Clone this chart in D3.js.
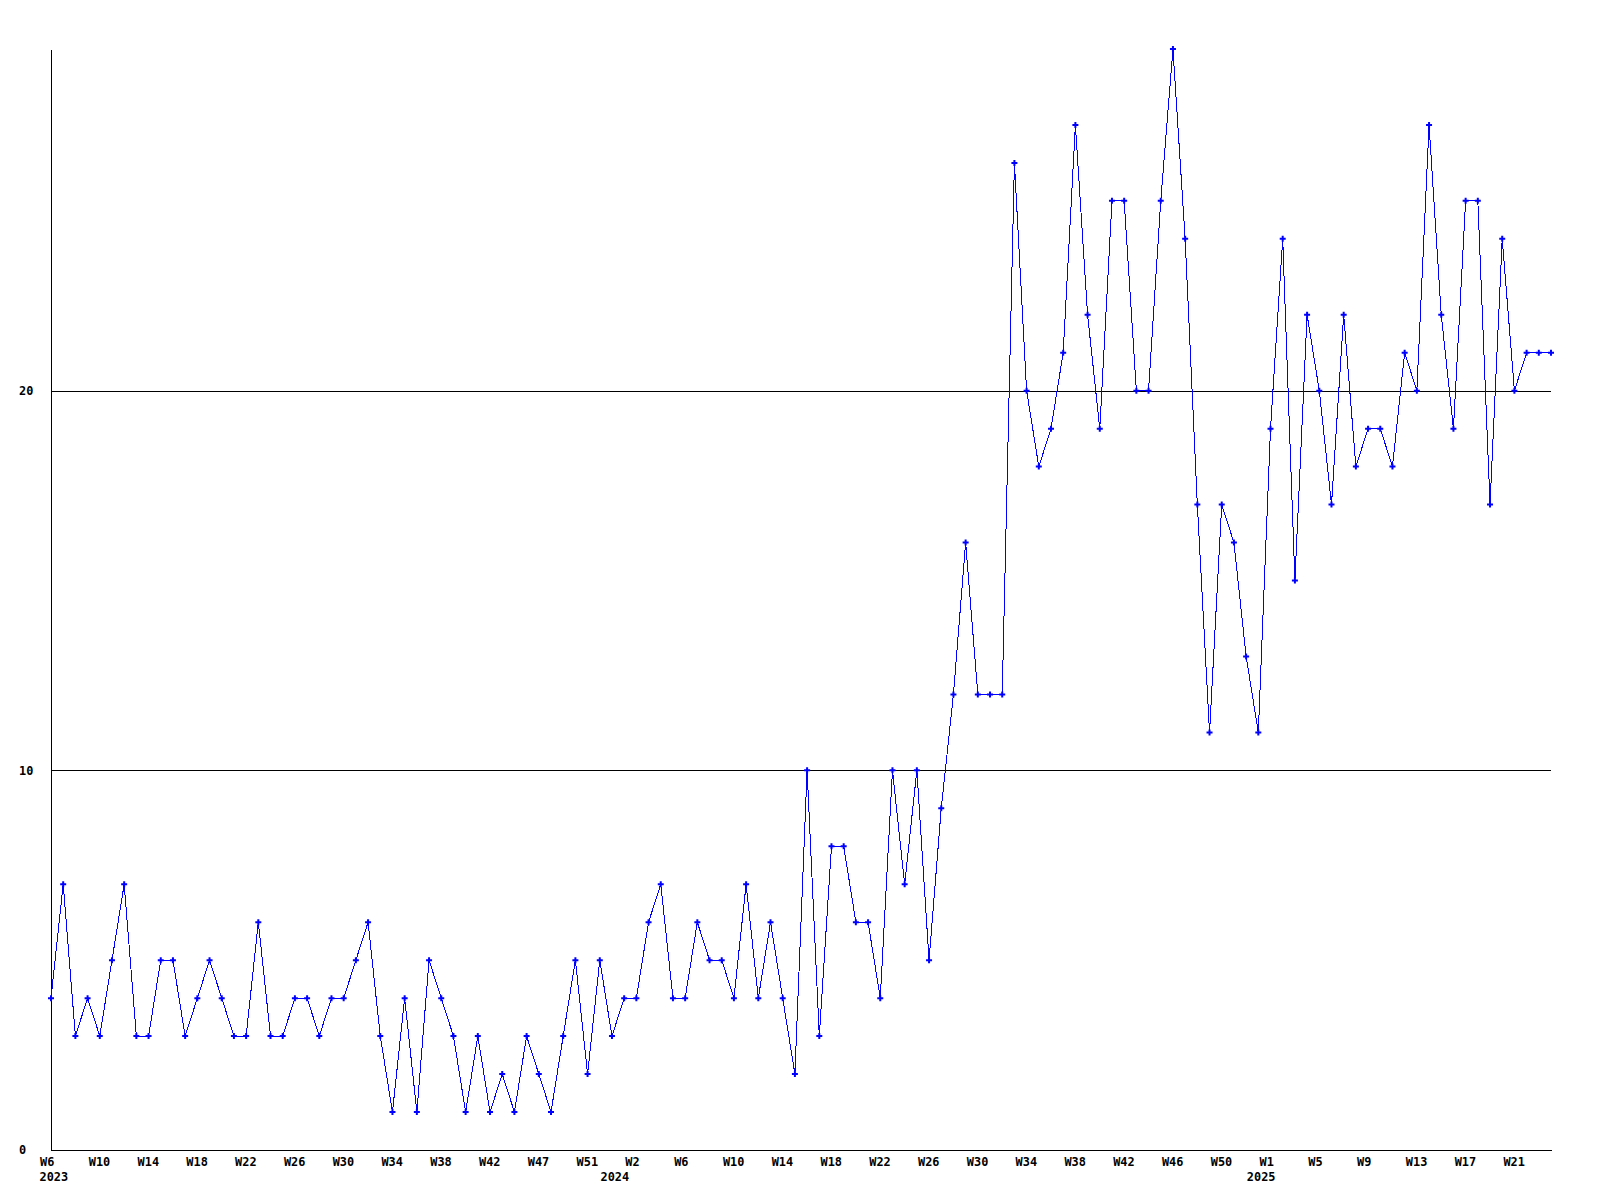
<!DOCTYPE html>
<html>
<head>
<meta charset="utf-8">
<script src="https://cdn.jsdelivr.net/npm/d3@7/dist/d3.min.js"></script>
<style>
  html, body { margin: 0; padding: 0; background: #fff; }
  svg { display: block; }
  text { font-family: "DejaVu Sans Mono", "Liberation Mono", monospace; font-weight: bold; font-size: 11.9px; fill: #000; }
</style>
</head>
<body>
<svg id="chart" width="1600" height="1200"></svg>
<script>
// Weekly values, 2023 W6 .. 2025 W23
const values = [
  4,7,3,4,3,5,7,3,3,5,5,3,4,5,4,3,3,6,3,3,4,4,3,4,4,5,6,3,1,
  4,1,5,4,3,1,3,1,2,1,3,2,1,3,5,2,5,3,4,4,6,7,4,4,6,5,5,4,
  7,4,6,4,2,10,3,8,8,6,6,4,10,7,10,5,9,
  12,16,12,12,12,26,20,18,19,21,27,22,19,25,25,20,20,
  25,29,24,17,11,17,16,13,11,19,24,15,22,20,17,22,18,19,19,18,21,20,27,22,19,25,25,17,24,20,21,21,
  21
];
// Week tick labels, one every 4th point
const weekTicks = ["W6","W10","W14","W18","W22","W26","W30","W34","W38","W42","W47","W51",
  "W2","W6","W10","W14","W18","W22","W26","W30","W34","W38","W42","W46","W50",
  "W1","W5","W9","W13","W17","W21"];
const years = ["2023","2024","2025"];
const yearIndex = [0, 46, 99];
const yTicks = [0, 10, 20];
const yMax = 29;

(function () {
  const svg = d3.select("#chart");
  const pL = 51, pR = 1551, pT = 49, pB = 1150;

  const x = d3.scaleLinear().domain([0, values.length - 1]).range([pL, pR]);
  const y = d3.scaleLinear().domain([0, yMax]).range([pB, pT]);

  // Gridlines
  const grid = svg.append("g").attr("transform", `translate(${pL},0)`)
    .call(d3.axisLeft(y).tickValues(yTicks.filter(d => d > 0)).tickSize(-(pR - pL)).tickFormat(""));
  grid.select(".domain").remove();
  grid.selectAll("line").attr("stroke", "#000").attr("shape-rendering", "crispEdges");

  // Y axis
  const yAxis = svg.append("g").attr("transform", `translate(${pL},0)`)
    .call(d3.axisLeft(y).tickValues(yTicks).tickSize(0).tickSizeOuter(0).tickFormat(d3.format("d")));
  yAxis.attr("font-size", null).attr("font-family", null);
  yAxis.select(".domain").attr("stroke", "#000").attr("shape-rendering", "crispEdges");
  yAxis.selectAll("text").attr("text-anchor", "start").attr("x", 19 - pL).attr("dy", "0.32em");

  // X axis with week labels
  const tickIdx = weekTicks.map((_, i) => i * 4);
  const xAxis = svg.append("g").attr("transform", `translate(0,${pB})`)
    .call(d3.axisBottom(x).tickValues(tickIdx).tickSize(0).tickSizeOuter(0)
      .tickFormat((d, i) => weekTicks[i]));
  xAxis.attr("font-size", null).attr("font-family", null);
  xAxis.select(".domain").attr("stroke", "#000").attr("shape-rendering", "crispEdges");
  xAxis.selectAll("text").attr("text-anchor", "start").attr("dx", -11.5).attr("y", 7.5).attr("dy", "0.71em");

  // Year labels
  svg.append("g").selectAll("text").data(years).join("text")
    .attr("x", (d, i) => x(yearIndex[i]) - 11.5)
    .attr("y", pB + 23)
    .attr("dy", "0.71em")
    .text(d => d);

  // Line
  svg.append("path").datum(values)
    .attr("fill", "none").attr("stroke", "#0000ff").attr("stroke-width", 1)
    .attr("shape-rendering", "crispEdges")
    .attr("d", d3.line().x((d, i) => x(i)).y(d => y(d)));

  // Markers
  svg.append("g").selectAll("path").data(values).join("path")
    .attr("transform", (d, i) => `translate(${x(i)},${y(d)})`)
    .attr("d", d3.symbol(d3.symbolCross, 20))
    .attr("fill", "#0000ff");
})();
</script>
</body>
</html>
